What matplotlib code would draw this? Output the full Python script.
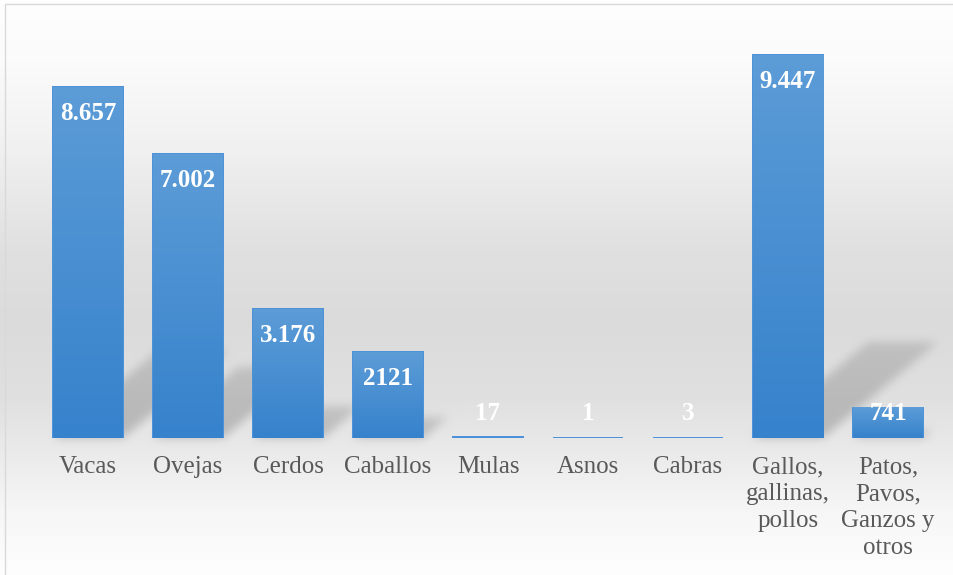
import numpy as np
import matplotlib
matplotlib.use("Agg")
import matplotlib.pyplot as plt

# Existencias de ganado por especie
categorias = ["Vacas", "Ovejas", "Cerdos", "Caballos", "Mulas", "Asnos", "Cabras",
              "Gallos,\ngallinas,\npollos", "Patos,\nPavos,\nGanzos y\notros"]
valores = [8657, 7002, 3176, 2121, 17, 1, 3, 9447, 741]
etiquetas = ["8.657", "7.002", "3.176", "2121", "17", "1", "3", "9.447", "741"]

W, H, DPI = 954, 575, 100
fuente = "Liberation Serif"
azul_claro = np.array([92, 156, 215]) / 255
azul_oscuro = np.array([54, 130, 204]) / 255

fig = plt.figure(figsize=(W / DPI, H / DPI), dpi=DPI)

# fondo en coordenadas de pixel (y hacia abajo)
fondo = fig.add_axes([0, 0, 1, 1], zorder=0)
fondo.set_xlim(0, W)
fondo.set_ylim(H, 0)
fondo.axis("off")

ax = fig.add_axes([38 / W, 137 / H, 900 / W, 405 / H], zorder=1)
ax.patch.set_alpha(0)

barras = ax.bar(range(len(valores)), valores, width=0.70, color=azul_oscuro,
                edgecolor="#4a90d9", linewidth=1.4, zorder=2)
ax.set_xlim(-0.5, len(valores) - 0.5)
ax.set_ylim(0, 10000)

# degradado vertical en cada barra
grad = np.linspace(0, 1, 100)[:, None, None]
colores = azul_claro * (1 - grad) + azul_oscuro * grad
for b in barras:
    if b.get_height() > 200:
        ax.imshow(colores, extent=[b.get_x(), b.get_x() + b.get_width(), 0, b.get_height()],
                  aspect="auto", zorder=3, interpolation="bilinear")
ax.set_xlim(-0.5, len(valores) - 0.5)
ax.set_ylim(0, 10000)

# degradado gris del fondo
yy = np.arange(H)
perfil = np.interp(yy, [0, 60, 150, 250, 320, 400, 450, 510, 575],
                   [254, 251, 240, 224, 219, 224, 234, 246, 254]) / 255
img = np.repeat(perfil[:, None], W, axis=1)

# sombras diagonales de las barras
unidad = ax.transData.transform([(0, 0), (0, 1)])
px_por_unidad = unidad[1, 1] - unidad[0, 1]
gx, gy = np.meshgrid(np.arange(W) + 0.5, np.arange(H) + 0.5)
mascara = np.zeros((H, W))
for b in barras:
    (x0, yb), (x1, yt) = ax.transData.transform(
        [(b.get_x(), 0), (b.get_x() + b.get_width(), b.get_height())])
    yb, yt = H - yb, H - yt
    h = yb - yt
    if h < 10:
        continue
    sh, s = 0.25 * h, 0.30 * h
    t = (yb - gy) / sh
    dentro = (t >= 0) & (t <= 1) & (gx >= x0 + t * s) & (gx <= x1 + t * s)
    mascara = np.maximum(mascara, dentro * (1 - 0.35 * np.clip(t, 0, 1)))

def suavizar(a, r):
    k = np.ones(2 * r + 1) / (2 * r + 1)
    a = np.apply_along_axis(lambda f: np.convolve(f, k, mode="same"), 0, a)
    return np.apply_along_axis(lambda f: np.convolve(f, k, mode="same"), 1, a)

for _ in range(3):
    mascara = suavizar(mascara, 4)
img = img * (1 - 0.2 * mascara)
fondo.imshow(np.dstack([img] * 3), extent=(0, W, H, 0), aspect="auto", zorder=0)

# marco del gráfico
fondo.plot([5.5, 5.5, W], [H, 3.5, 3.5], color="#d9d9d9", lw=1, zorder=1)
fondo.set_xlim(0, W)
fondo.set_ylim(H, 0)

# etiquetas de datos
for b, txt in zip(barras, etiquetas):
    y = max(b.get_height() - 26 / px_por_unidad, 25 / px_por_unidad)
    ax.text(b.get_x() + b.get_width() / 2, y, txt, ha="center", va="center",
            color="white", fontsize=18, fontweight="bold", family=fuente, zorder=4)

ax.set_xticks(range(len(categorias)))
ax.set_xticklabels(categorias, fontsize=18, family=fuente, color="#595959",
                   linespacing=1.3)
ax.tick_params(axis="x", length=0, pad=13)
ax.set_yticks([])
for sp in ax.spines.values():
    sp.set_visible(False)

fig.savefig("out.png", dpi=DPI)
